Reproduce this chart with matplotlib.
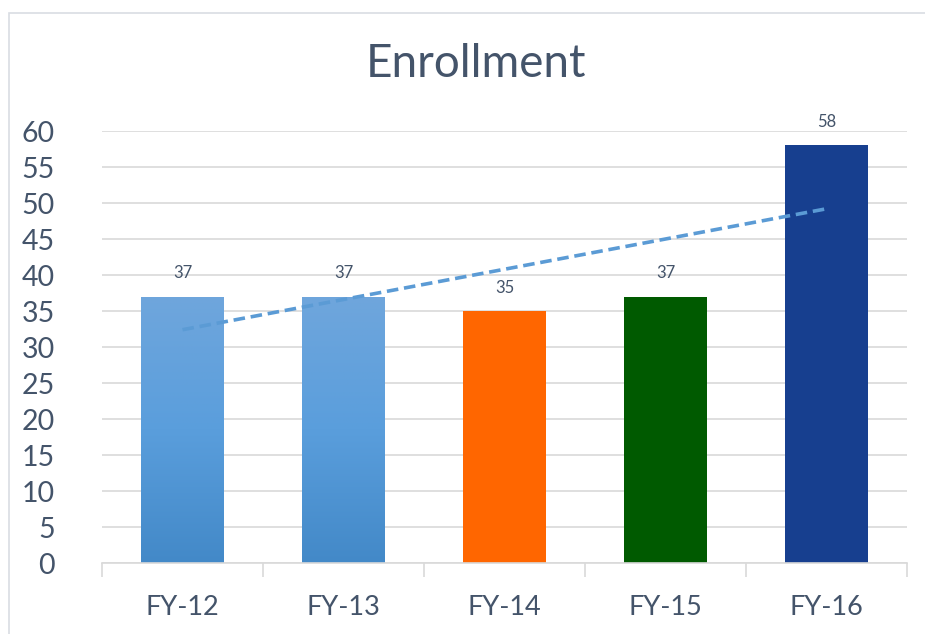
import numpy as np
import matplotlib
matplotlib.use("Agg")
import matplotlib.pyplot as plt
from matplotlib.patches import Rectangle
from matplotlib.colors import LinearSegmentedColormap

categories = ["FY-12", "FY-13", "FY-14", "FY-15", "FY-16"]
values = [37, 37, 35, 37, 58]
bar_colors = ["gradient", "gradient", "#FF6600", "#005A00", "#173F8F"]
yticks = list(range(0, 61, 5))

plt.rcParams['font.family'] = ['Lato', 'DejaVu Sans']
text_color = "#44546A"
grid_color = "#D9D9D9"

fig = plt.figure(figsize=(9.25, 6.34), dpi=100)
fig.patches.append(Rectangle((9/925, -0.1), 1.0, 1 - 13/634 + 0.1, transform=fig.transFigure,
                             fill=False, edgecolor="#D9DDE3", linewidth=1.2))
ax = fig.add_axes([102/925, 1 - 563/634, (907 - 102)/925, (563 - 131)/634])

x = np.arange(len(categories))
width = 0.51
bars = ax.bar(x, values, width=width, zorder=2)
cmap = LinearSegmentedColormap.from_list("g", ["#4389C8", "#5A9EDC", "#6FA6DC"])
grad = np.linspace(0, 1, 256).reshape(-1, 1)
for b, c in zip(bars, bar_colors):
    if c == "gradient":
        b.set_facecolor("none")
        b.set_edgecolor("none")
        im = ax.imshow(grad, cmap=cmap, origin="lower", aspect="auto",
                       extent=[b.get_x(), b.get_x() + b.get_width(), 0, b.get_height()],
                       zorder=2)
        im.set_clip_path(b)
    else:
        b.set_facecolor(c)
    ax.text(b.get_x() + b.get_width() / 2, b.get_height() + 2.1, str(int(b.get_height())),
            ha="center", va="bottom", fontsize=12, color=text_color)

# linear trendline
coef = np.polyfit(x, values, 1)
ax.plot(x, np.polyval(coef, x), linestyle=(0, (3.2, 1.6)), color="#5B9BD5",
        linewidth=2.6, zorder=3)

ax.set_xlim(-0.5, len(categories) - 0.5)
ax.set_ylim(0, 60)
ax.set_yticks(yticks)
ax.set_yticklabels([str(t) for t in yticks])
ax.yaxis.grid(True, color=grid_color, linewidth=1.2, zorder=0)
ax.set_axisbelow(True)
for s in ["top", "right", "left"]:
    ax.spines[s].set_visible(False)
ax.spines["bottom"].set_color(grid_color)
ax.spines["bottom"].set_linewidth(1.2)
ax.tick_params(axis="y", length=0, pad=34, labelsize=20.5, labelcolor=text_color)
ax.set_xticks(x)
ax.set_xticklabels(categories)
ax.tick_params(axis="x", which="major", length=0, pad=23, labelsize=19.5, labelcolor=text_color)
ax.set_xticks(np.arange(-0.5, len(categories), 1), minor=True)
ax.tick_params(axis="x", which="minor", length=10, width=1.2, color=grid_color)

fig.text(476/925, 1 - 64/634, "Enrollment", ha="center", va="center",
         fontsize=33, color=text_color)

fig.savefig("out.png", dpi=100)
